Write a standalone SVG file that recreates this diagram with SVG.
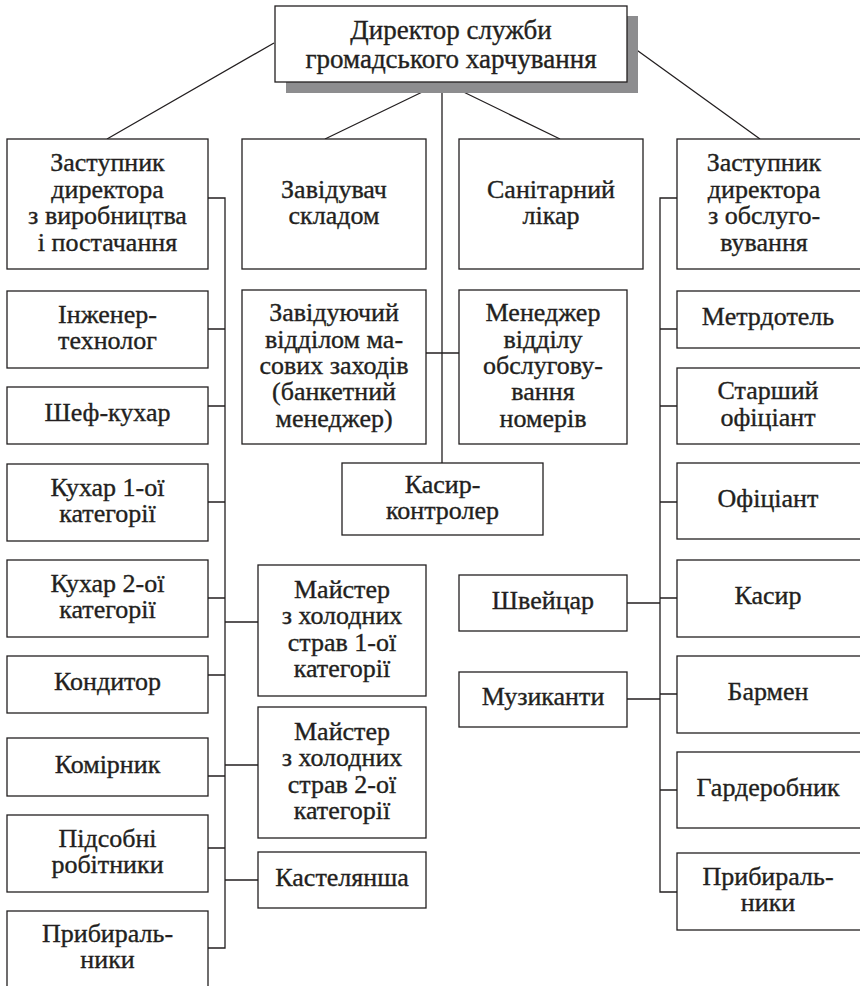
<svg xmlns="http://www.w3.org/2000/svg" width="860" height="986" viewBox="0 0 860 986">
<style>
.box{fill:#fff;stroke:#231f20;stroke-width:1.3}
.shadow{fill:#8d8d8f}
.t{font-family:'Liberation Serif','Times New Roman',serif;font-size:26px;fill:#231f20;stroke:#231f20;stroke-width:0.35;text-anchor:middle}
.big{font-size:27px}
.con{fill:none;stroke:#231f20;stroke-width:1.3}
</style>
<rect width="860" height="986" fill="#fff"/>
<g id="connectors">
<path class="con" d="M274,43 L107,139 M627,43 L760,139 M443,82 L325,139 M443,82 L560,139 M442,82 V463 M426,353 H459"/>
<path class="con" d="M208,198 H225 V948 H208 M208,329 H225 M208,406 H225 M208,502 H225 M208,598 H225 M208,675 H225 M208,776 H225 M208,848 H225 M225,622 H258 M225,765 H258 M225,880 H258"/>
<path class="con" d="M677,198 H660 V892 H677 M660,329 H677 M660,406 H677 M660,502 H677 M660,598 H677 M660,694 H677 M660,790 H677 M627,603 H660 M627,699 H660"/>
</g>
<g id="director">
<rect class="shadow" x="286" y="16" width="352" height="77"/>
<rect class="box" x="275" y="6" width="352" height="76"/>
<text class="t big" x="451"><tspan x="451" y="39">Директор служби</tspan><tspan x="451" y="68">громадського харчування</tspan></text>
</g>
<g id="deputy-production">
<rect class="box" x="7" y="139" width="201" height="130"/>
<text class="t"><tspan x="107.5" y="171.4">Заступник</tspan><tspan x="107.5" y="197.8">директора</tspan><tspan x="107.5" y="224.2">з виробництва</tspan><tspan x="107.5" y="250.6">і постачання</tspan></text>
</g>
<g id="warehouse">
<rect class="box" x="242" y="139" width="184" height="130"/>
<text class="t"><tspan x="334" y="197.8">Завідувач</tspan><tspan x="334" y="224.2">складом</tspan></text>
</g>
<g id="sanitary">
<rect class="box" x="459" y="139" width="184" height="130"/>
<text class="t"><tspan x="551" y="197.8">Санітарний</tspan><tspan x="551" y="224.2">лікар</tspan></text>
</g>
<g id="deputy-service">
<rect class="box" x="677" y="139" width="184" height="130"/>
<text class="t"><tspan x="764" y="171.4">Заступник</tspan><tspan x="764" y="197.8">директора</tspan><tspan x="764" y="224.2">з обслуго-</tspan><tspan x="764" y="250.6">вування</tspan></text>
</g>
<g id="engineer">
<rect class="box" x="7" y="291" width="201" height="77"/>
<text class="t"><tspan x="107.5" y="322.8">Інженер-</tspan><tspan x="107.5" y="349.2">технолог</tspan></text>
</g>
<g id="chef">
<rect class="box" x="7" y="387" width="201" height="57"/>
<text class="t" x="107.5" y="421">Шеф-кухар</text>
</g>
<g id="cook1">
<rect class="box" x="7" y="464" width="201" height="77"/>
<text class="t"><tspan x="107.5" y="495.8">Кухар 1-ої</tspan><tspan x="107.5" y="522.2">категорії</tspan></text>
</g>
<g id="cook2">
<rect class="box" x="7" y="560" width="201" height="77"/>
<text class="t"><tspan x="107.5" y="591.8">Кухар 2-ої</tspan><tspan x="107.5" y="618.2">категорії</tspan></text>
</g>
<g id="confectioner">
<rect class="box" x="7" y="656" width="201" height="57"/>
<text class="t" x="107.5" y="690">Кондитор</text>
</g>
<g id="storekeeper">
<rect class="box" x="7" y="738" width="201" height="58"/>
<text class="t" x="107.5" y="772.5">Комірник</text>
</g>
<g id="helpers">
<rect class="box" x="7" y="815" width="201" height="77"/>
<text class="t"><tspan x="107.5" y="846.8">Підсобні</tspan><tspan x="107.5" y="873.2">робітники</tspan></text>
</g>
<g id="cleaners-left">
<rect class="box" x="7" y="911" width="201" height="90"/>
<text class="t"><tspan x="107.5" y="941.7">Прибираль-</tspan><tspan x="107.5" y="968">ники</tspan></text>
</g>
<g id="banquet">
<rect class="box" x="242" y="290" width="184" height="154"/>
<text class="t"><tspan x="334" y="321.2">Завідуючий</tspan><tspan x="334" y="347.6">відділом ма-</tspan><tspan x="334" y="374">сових заходів</tspan><tspan x="334" y="400.4">(банкетний</tspan><tspan x="334" y="426.8">менеджер)</tspan></text>
</g>
<g id="room-service">
<rect class="box" x="459" y="290" width="168" height="154"/>
<text class="t"><tspan x="543" y="321.2">Менеджер</tspan><tspan x="543" y="347.6">відділу</tspan><tspan x="543" y="374">обслугову-</tspan><tspan x="543" y="400.4">вання</tspan><tspan x="543" y="426.8">номерів</tspan></text>
</g>
<g id="cashier-controller">
<rect class="box" x="342" y="463" width="201" height="72"/>
<text class="t"><tspan x="442.5" y="492.8">Касир-</tspan><tspan x="442.5" y="519.2">контролер</tspan></text>
</g>
<g id="cold-master-1">
<rect class="box" x="258" y="565" width="168" height="131"/>
<text class="t"><tspan x="342" y="597.9">Майстер</tspan><tspan x="342" y="624.3">з холодних</tspan><tspan x="342" y="650.7">страв 1-ої</tspan><tspan x="342" y="677.1">категорії</tspan></text>
</g>
<g id="cold-master-2">
<rect class="box" x="258" y="707" width="168" height="131"/>
<text class="t"><tspan x="342" y="739.9">Майстер</tspan><tspan x="342" y="766.3">з холодних</tspan><tspan x="342" y="792.7">страв 2-ої</tspan><tspan x="342" y="819.1">категорії</tspan></text>
</g>
<g id="linen-keeper">
<rect class="box" x="258" y="852" width="168" height="56"/>
<text class="t" x="342" y="885.5">Кастелянша</text>
</g>
<g id="doorman">
<rect class="box" x="459" y="575" width="168" height="56"/>
<text class="t" x="543" y="608.5">Швейцар</text>
</g>
<g id="musicians">
<rect class="box" x="459" y="672" width="168" height="55"/>
<text class="t" x="543" y="705">Музиканти</text>
</g>
<g id="maitre">
<rect class="box" x="677" y="291" width="184" height="57"/>
<text class="t" x="768" y="325">Метрдотель</text>
</g>
<g id="senior-waiter">
<rect class="box" x="677" y="368" width="184" height="76"/>
<text class="t"><tspan x="768" y="399.3">Старший</tspan><tspan x="768" y="425.7">офіціант</tspan></text>
</g>
<g id="waiter">
<rect class="box" x="677" y="463" width="184" height="76"/>
<text class="t" x="768" y="506.5">Офіціант</text>
</g>
<g id="cashier">
<rect class="box" x="677" y="560" width="184" height="77"/>
<text class="t" x="768" y="604">Касир</text>
</g>
<g id="barman">
<rect class="box" x="677" y="656" width="184" height="77"/>
<text class="t" x="768" y="700">Бармен</text>
</g>
<g id="cloakroom">
<rect class="box" x="677" y="752" width="184" height="76"/>
<text class="t" x="768" y="795.5">Гардеробник</text>
</g>
<g id="cleaners-right">
<rect class="box" x="677" y="853" width="184" height="77"/>
<text class="t"><tspan x="768" y="884.8">Прибираль-</tspan><tspan x="768" y="911.2">ники</tspan></text>
</g>
</svg>
